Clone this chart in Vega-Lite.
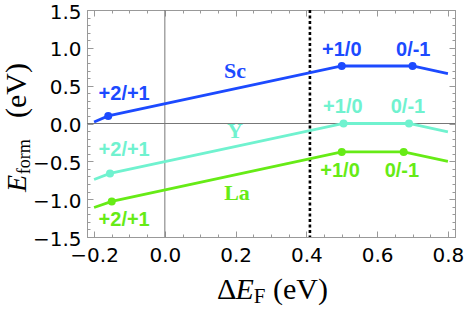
{
  "$schema": "https://vega.github.io/schema/vega-lite/v6.json",
  "width": 368,
  "height": 227,
  "autosize": {"type": "none"},
  "padding": {"left": 87, "top": 10, "right": 9, "bottom": 72},
  "background": "white",
  "config": {"view": {"stroke": "#999999", "strokeWidth": 1}},
  "datasets": {
    "lines": [
      {"el": "Sc", "x": -0.2, "y": 0.02},
      {"el": "Sc", "x": -0.16, "y": 0.10},
      {"el": "Sc", "x": 0.50, "y": 0.76},
      {"el": "Sc", "x": 0.70, "y": 0.76},
      {"el": "Sc", "x": 0.80, "y": 0.66},
      {"el": "Y", "x": -0.2, "y": -0.74},
      {"el": "Y", "x": -0.155, "y": -0.66},
      {"el": "Y", "x": 0.505, "y": 0.0},
      {"el": "Y", "x": 0.69, "y": 0.0},
      {"el": "Y", "x": 0.80, "y": -0.11},
      {"el": "La", "x": -0.2, "y": -1.11},
      {"el": "La", "x": -0.15, "y": -1.03},
      {"el": "La", "x": 0.50, "y": -0.375},
      {"el": "La", "x": 0.675, "y": -0.375},
      {"el": "La", "x": 0.80, "y": -0.50}
    ],
    "levels": [
      {"el": "Sc", "x": -0.16, "y": 0.10},
      {"el": "Sc", "x": 0.50, "y": 0.76},
      {"el": "Sc", "x": 0.70, "y": 0.76},
      {"el": "Y", "x": -0.155, "y": -0.66},
      {"el": "Y", "x": 0.505, "y": 0.0},
      {"el": "Y", "x": 0.69, "y": 0.0},
      {"el": "La", "x": -0.15, "y": -1.03},
      {"el": "La", "x": 0.50, "y": -0.375},
      {"el": "La", "x": 0.675, "y": -0.375}
    ],
    "charges": [
      {"el": "Sc", "x": -0.115, "y": 0.39, "label": "+2/+1"},
      {"el": "Sc", "x": 0.50, "y": 0.971, "label": "+1/0"},
      {"el": "Sc", "x": 0.702, "y": 0.971, "label": "0/-1"},
      {"el": "Y", "x": -0.115, "y": -0.35, "label": "+2/+1"},
      {"el": "Y", "x": 0.503, "y": 0.222, "label": "+1/0"},
      {"el": "Y", "x": 0.687, "y": 0.222, "label": "0/-1"},
      {"el": "La", "x": -0.115, "y": -1.275, "label": "+2/+1"},
      {"el": "La", "x": 0.495, "y": -0.624, "label": "+1/0"},
      {"el": "La", "x": 0.670, "y": -0.624, "label": "0/-1"}
    ],
    "names": [
      {"el": "Sc", "x": 0.198, "y": 0.694},
      {"el": "Y", "x": 0.198, "y": -0.099},
      {"el": "La", "x": 0.204, "y": -0.922}
    ]
  },
  "resolve": {"axis": {"x": "independent", "y": "independent"}},
  "layer": [
    {
      "data": {"values": [{}]},
      "mark": {"type": "rule", "color": "#777777", "strokeWidth": 1},
      "encoding": {"x": {"datum": 0, "type": "quantitative", "axis": null}}
    },
    {
      "data": {"values": [{}]},
      "mark": {"type": "rule", "color": "#777777", "strokeWidth": 1},
      "encoding": {"y": {"datum": 0, "type": "quantitative", "axis": null}}
    },
    {
      "data": {"values": [{}]},
      "mark": {"type": "rule", "color": "black", "strokeWidth": 2.6, "strokeDash": [3, 2.5]},
      "encoding": {"x": {"datum": 0.41, "type": "quantitative", "axis": null}}
    },
    {
      "data": {"name": "lines"},
      "mark": {"type": "line", "strokeWidth": 2.8},
      "encoding": {
        "x": {
          "field": "x", "type": "quantitative",
          "scale": {"domain": [-0.22, 0.82], "nice": false, "zero": false},
          "axis": {
            "orient": "bottom", "title": null,
            "values": [-0.2, -0.15, -0.1, -0.05, 0, 0.05, 0.1, 0.15, 0.2, 0.25, 0.3, 0.35, 0.4, 0.45, 0.5, 0.55, 0.6, 0.65, 0.7, 0.75, 0.8],
            "labelExpr": "abs(datum.value*5 - round(datum.value*5)) < 0.001 ? format(datum.value, '.1f') : ''",
            "labelFont": "DejaVu Sans", "labelFontSize": 20, "labelColor": "black",
            "labelPadding": 14, "labelFlush": false, "labelOverlap": false,
            "tickColor": "#999999",
            "tickSize": {"condition": {"test": "abs(datum.value*5 - round(datum.value*5)) < 0.001", "value": -6}, "value": -3},
            "domainColor": "#999999", "grid": false
          }
        },
        "y": {
          "field": "y", "type": "quantitative",
          "scale": {"domain": [-1.5, 1.5], "nice": false, "zero": false},
          "axis": {
            "orient": "left", "title": null,
            "values": [-1.5, -1.4, -1.3, -1.2, -1.1, -1.0, -0.9, -0.8, -0.7, -0.6, -0.5, -0.4, -0.3, -0.2, -0.1, 0, 0.1, 0.2, 0.3, 0.4, 0.5, 0.6, 0.7, 0.8, 0.9, 1.0, 1.1, 1.2, 1.3, 1.4, 1.5],
            "labelExpr": "abs(datum.value*2 - round(datum.value*2)) < 0.001 ? format(datum.value, '.1f') : ''",
            "labelFont": "DejaVu Sans", "labelFontSize": 20, "labelColor": "black",
            "labelPadding": 12, "labelOffset": 2, "labelFlush": false, "labelOverlap": false,
            "tickColor": "#999999",
            "tickSize": {"condition": {"test": "abs(datum.value*2 - round(datum.value*2)) < 0.001", "value": -6}, "value": -3},
            "domainColor": "#999999", "grid": false
          }
        },
        "color": {
          "field": "el", "type": "nominal",
          "scale": {"domain": ["Sc", "Y", "La"], "range": ["#1c4aff", "#70f2cf", "#66eb16"]},
          "legend": null
        },
        "detail": {"field": "el"}
      }
    },
    {
      "data": {"name": "levels"},
      "mark": {"type": "point", "filled": true, "opacity": 1, "size": 64},
      "encoding": {
        "x": {
          "field": "x", "type": "quantitative",
          "axis": {
            "orient": "top", "title": null, "labels": false,
            "values": [-0.2, -0.15, -0.1, -0.05, 0, 0.05, 0.1, 0.15, 0.2, 0.25, 0.3, 0.35, 0.4, 0.45, 0.5, 0.55, 0.6, 0.65, 0.7, 0.75, 0.8],
            "tickColor": "#999999",
            "tickSize": {"condition": {"test": "abs(datum.value*5 - round(datum.value*5)) < 0.001", "value": -6}, "value": -3},
            "domainColor": "#999999", "grid": false
          }
        },
        "y": {
          "field": "y", "type": "quantitative",
          "axis": {
            "orient": "right", "title": null, "labels": false,
            "values": [-1.5, -1.4, -1.3, -1.2, -1.1, -1.0, -0.9, -0.8, -0.7, -0.6, -0.5, -0.4, -0.3, -0.2, -0.1, 0, 0.1, 0.2, 0.3, 0.4, 0.5, 0.6, 0.7, 0.8, 0.9, 1.0, 1.1, 1.2, 1.3, 1.4, 1.5],
            "tickColor": "#999999",
            "tickSize": {"condition": {"test": "abs(datum.value*2 - round(datum.value*2)) < 0.001", "value": -6}, "value": -3},
            "domainColor": "#999999", "grid": false
          }
        },
        "color": {"field": "el", "type": "nominal", "legend": null}
      }
    },
    {
      "data": {"name": "charges"},
      "mark": {"type": "text", "font": "Liberation Sans", "fontWeight": "bold", "fontSize": 20, "align": "center", "baseline": "middle"},
      "encoding": {
        "x": {"field": "x", "type": "quantitative", "axis": null},
        "y": {"field": "y", "type": "quantitative", "axis": null},
        "text": {"field": "label"},
        "color": {"field": "el", "type": "nominal", "legend": null}
      }
    },
    {
      "data": {"name": "names"},
      "mark": {"type": "text", "font": "Liberation Serif", "fontWeight": "bold", "fontSize": 22, "align": "center", "baseline": "middle"},
      "encoding": {
        "x": {"field": "x", "type": "quantitative", "axis": null},
        "y": {"field": "y", "type": "quantitative", "axis": null},
        "text": {"field": "el"},
        "color": {"field": "el", "type": "nominal", "legend": null}
      }
    },
    {
      "data": {"values": [{}]},
      "mark": {"type": "text", "text": "Δ", "font": "Liberation Serif", "fontSize": 30, "align": "left", "baseline": "alphabetic", "color": "black"},
      "encoding": {"x": {"datum": 0.1474, "type": "quantitative", "axis": null}, "y": {"datum": -2.319, "type": "quantitative", "axis": null}}
    },
    {
      "data": {"values": [{}]},
      "mark": {"type": "text", "text": "E", "font": "Liberation Serif", "fontStyle": "italic", "fontSize": 30, "align": "left", "baseline": "alphabetic", "color": "black"},
      "encoding": {"x": {"datum": 0.1994, "type": "quantitative", "axis": null}, "y": {"datum": -2.319, "type": "quantitative", "axis": null}}
    },
    {
      "data": {"values": [{}]},
      "mark": {"type": "text", "text": "F", "font": "Liberation Serif", "fontSize": 21, "align": "left", "baseline": "alphabetic", "color": "black"},
      "encoding": {"x": {"datum": 0.2511, "type": "quantitative", "axis": null}, "y": {"datum": -2.372, "type": "quantitative", "axis": null}}
    },
    {
      "data": {"values": [{}]},
      "mark": {"type": "text", "text": "(eV)", "font": "Liberation Serif", "fontSize": 30, "align": "left", "baseline": "alphabetic", "color": "black"},
      "encoding": {"x": {"datum": 0.3054, "type": "quantitative", "axis": null}, "y": {"datum": -2.319, "type": "quantitative", "axis": null}}
    },
    {
      "data": {"values": [{}]},
      "mark": {"type": "text", "text": "E", "font": "Liberation Serif", "fontStyle": "italic", "fontSize": 28, "align": "left", "baseline": "alphabetic", "angle": 270, "color": "black"},
      "encoding": {"x": {"datum": -0.3924, "type": "quantitative", "axis": null}, "y": {"datum": -0.905, "type": "quantitative", "axis": null}}
    },
    {
      "data": {"values": [{}]},
      "mark": {"type": "text", "text": "form", "font": "Liberation Serif", "fontSize": 18, "align": "left", "baseline": "alphabetic", "angle": 270, "color": "black"},
      "encoding": {"x": {"datum": -0.381, "type": "quantitative", "axis": null}, "y": {"datum": -0.67, "type": "quantitative", "axis": null}}
    },
    {
      "data": {"values": [{}]},
      "mark": {"type": "text", "text": "(eV)", "font": "Liberation Serif", "fontSize": 30, "align": "left", "baseline": "alphabetic", "angle": 270, "color": "black"},
      "encoding": {"x": {"datum": -0.3922, "type": "quantitative", "axis": null}, "y": {"datum": 0.073, "type": "quantitative", "axis": null}}
    }
  ]
}
